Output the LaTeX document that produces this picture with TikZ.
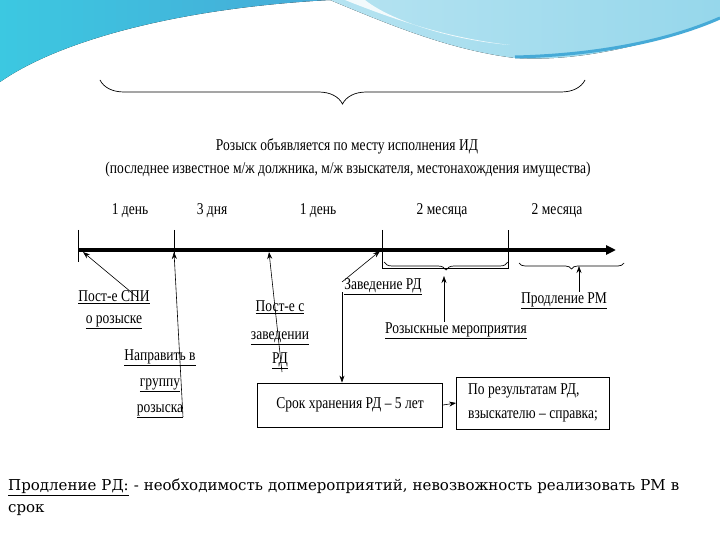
\documentclass[tikz,border=0pt]{standalone}
\usepackage{fontspec}
\setmainfont{Liberation Serif}
\newfontfamily\cf[FakeStretch=0.82]{Liberation Serif}
\newfontfamily\btfont{DejaVu Serif}
\usetikzlibrary{arrows.meta,decorations.pathreplacing}
\definecolor{wdark}{RGB}{70,170,215}
\definecolor{wlight}{RGB}{150,215,235}
\definecolor{wcyan}{RGB}{60,200,225}
\begin{document}
\begin{tikzpicture}[x=1pt,y=-1pt,
  lbl/.style={font=\cf\fontsize{16.5}{18}\selectfont,inner sep=1pt},
  ul/.style={lbl,align=center},
  con/.style={draw,line width=0.6pt,-{Stealth[length=7pt,width=5pt]}},
  bx/.style={draw,line width=0.8pt,font=\cf\fontsize{16.5}{24}\selectfont,align=left,inner sep=4pt},
  tick/.style={line width=0.7pt},
  brc/.style={decorate,decoration={brace,amplitude=8pt},line width=0.7pt}]
\useasboundingbox (0,0) rectangle (720,540);
% background waves
\fill[white] (0,0) rectangle (720,540);
\fill[left color=wcyan,right color=wdark] (0,0) -- (0,82) .. controls (60,40) and (180,8) .. (330,0) -- cycle;
\fill[left color=wlight!70,right color=wlight] (330,0) -- (720,0) -- (720,18) .. controls (650,45) and (580,62) .. (515,58) .. controls (450,50) and (390,25) .. (330,0) -- cycle;
\fill[white,opacity=0.85] (345,0) .. controls (400,22) and (450,38) .. (510,45) .. controls (450,40) and (390,20) .. (365,0) -- cycle;
\draw[wdark,line width=3pt] (515,57) .. controls (600,55) and (670,40) .. (720,18);
% top brace
\coordinate (bL) at (100,80); \coordinate (bR) at (585,80);
\draw[brc,decoration={mirror,amplitude=24pt}] (bL) -- (bR);
\node[lbl] (t1) at (347,146) {Розыск объявляется по месту исполнения ИД};
\node[lbl] (t2) at (348,170) {(последнее известное м/ж должника, м/ж взыскателя, местонахождения имущества)};
% durations
\node[lbl] (d1) at (130,211) {1 день};
\node[lbl] (d2) at (212,211) {3 дня};
\node[lbl] (d3) at (318,211) {1 день};
\node[lbl] (d4) at (442,211) {2 месяца};
\node[lbl] (d5) at (557,211) {2 месяца};
% axis
\coordinate (a0) at (78,250); \coordinate (a1) at (616,250);
\draw[line width=3.5pt,-{Triangle[length=10pt,width=9pt]}] (a0) -- (a1);
\coordinate (p1) at (83,252); \coordinate (p2) at (174,252); \coordinate (p3) at (269,252); \coordinate (p4) at (380,251);
\draw[tick] (78,230) -- (78,262);
\draw[tick] (174,230) -- (174,254);
\draw[tick] (382,230) -- (382,262);
\draw[tick] (382,262) -- (382,268) -- (508,268) -- (508,230);
\draw[brc,decoration={mirror,amplitude=8pt}] (384,262) -- (508,262);
\draw[brc,decoration={mirror,amplitude=6pt}] (519,263) -- (624,263);
% labels
\node[ul] (n1) at (114,310) {\underline{Пост-е СПИ}\\[4pt]\underline{о розыске}};
\node[ul] (n2) at (160,384) {\underline{Направить в}\\[8pt]\underline{группу}\\[8pt]\underline{розыска}};
\node[ul] (n3) at (280,335) {\underline{Пост-е с}\\[10pt]\underline{заведении}\\[6pt]\underline{РД}};
\node[lbl] (n4) at (383,287) {\underline{Заведение РД}};
\node[lbl] (n5) at (456,331) {\underline{Розыскные мероприятия}};
\node[lbl] (n6) at (564,301) {\underline{Продление РМ}};
\node[bx,minimum width=185pt,minimum height=44pt] (b1) at (350,405) {Срок хранения РД – 5 лет};
\node[bx,minimum width=153pt,minimum height=52pt] (b2) at (533,403) {По результатам РД,\\взыскателю – справка;};
% connectors
\coordinate (c1) at (137,297);
\draw[con] (c1) -- (p1);
\coordinate (c2) at (183,417);
\draw[con] (c2) -- (p2);
\coordinate (c3) at (282,372);
\draw[con] (c3) -- (p3);
\coordinate (c4) at (342,282);
\draw[con] (c4) -- (p4);
\draw[con] (342,292) -- (b1.north -| 342,0);
\draw[con] (n5.north -| 444,0) -- (444,276);
\draw[con] (n6.north -| 579,0) -- (579,266);
\draw[con] (b1.east) -- (b2.west);
% bottom text
\node[anchor=north west,align=left,text width=700pt,inner sep=0pt,font=\btfont\fontsize{15}{22}\selectfont] (bt) at (8,479)
 {\underline{Продление РД:} - необходимость допмероприятий, невозвожность реализовать РМ в срок};
\end{tikzpicture}
\end{document}
